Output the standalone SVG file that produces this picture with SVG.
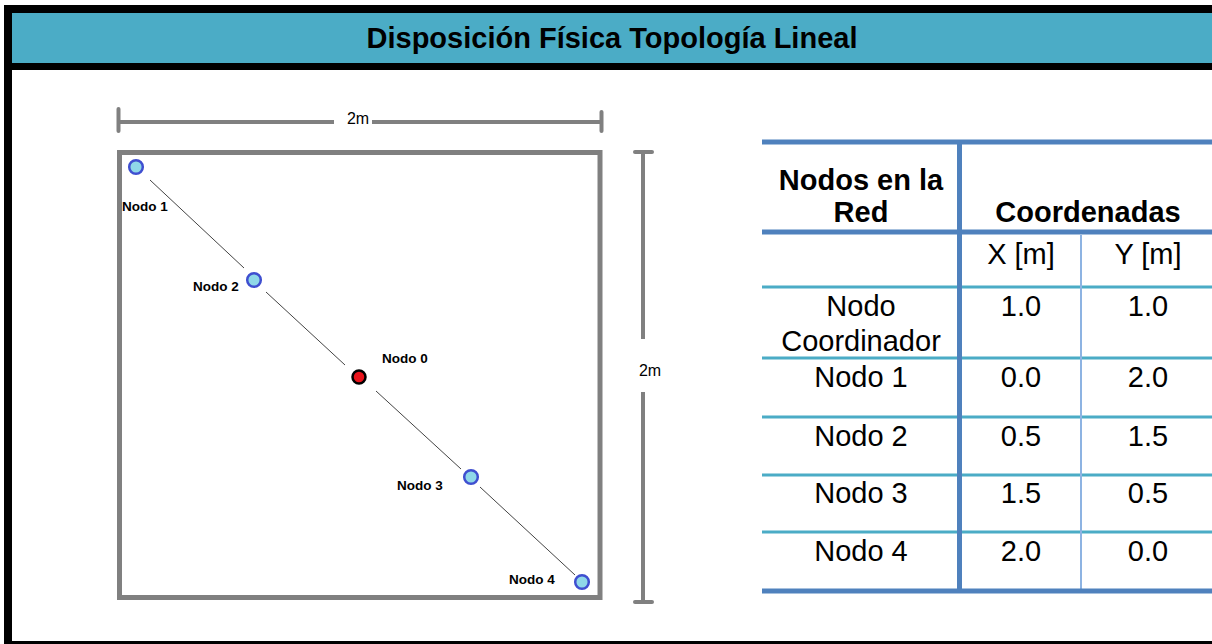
<svg xmlns="http://www.w3.org/2000/svg" width="1212" height="644" viewBox="0 0 1212 644">
<style>
.title{font-family:"Liberation Sans",Arial,sans-serif;font-weight:bold;font-size:29px;fill:#000}
.lbl{font-family:"Liberation Sans",Arial,sans-serif;font-weight:bold;font-size:13.5px;fill:#000}
.dim{font-family:"Liberation Sans",Arial,sans-serif;font-size:16px;fill:#000}
.th{font-family:"Liberation Sans",Arial,sans-serif;font-weight:bold;font-size:29px;fill:#000;text-anchor:middle}
.td{font-family:"Liberation Sans",Arial,sans-serif;font-size:29px;fill:#000;text-anchor:middle}
.gray{stroke:#808080;fill:none}
.node{fill:#8FD8E8;stroke:#3F4FD0;stroke-width:2.5}
.coord{fill:#E8131B;stroke:#000;stroke-width:2.5}
.thick{stroke:#4F81BD;stroke-width:5}
.thin{stroke:#4BACC6;stroke-width:3}
</style>
<rect x="0" y="0" width="1212" height="644" fill="#fff"/>
<!-- frame -->
<rect x="4" y="5" width="1208" height="8" fill="#000"/>
<rect x="4" y="5" width="8" height="639" fill="#000"/>
<rect x="12" y="13" width="1200" height="50" fill="#4BACC6"/>
<rect x="12" y="63" width="1200" height="7" fill="#000"/>
<rect x="4" y="641" width="1208" height="3" fill="#000"/>
<text class="title" x="612" y="48" text-anchor="middle">Disposición Física Topología Lineal</text>

<!-- room -->
<g id="room">
<rect class="gray" x="119.5" y="152.5" width="480.5" height="445" stroke-width="5"/>
</g>
<!-- dimensions -->
<g id="dim-top">
<line class="gray" x1="118" y1="122" x2="334" y2="122" stroke-width="4"/>
<line class="gray" x1="372" y1="122" x2="602" y2="122" stroke-width="4"/>
<line class="gray" x1="118.5" y1="109" x2="118.5" y2="131" stroke-width="4" stroke-linecap="round"/>
<line class="gray" x1="601.5" y1="112" x2="601.5" y2="131" stroke-width="4" stroke-linecap="round"/>
<text class="dim" x="358" y="124" text-anchor="middle">2m</text>
</g>
<g id="dim-right">
<line class="gray" x1="643" y1="152" x2="643" y2="339" stroke-width="4"/>
<line class="gray" x1="643" y1="392" x2="643" y2="602" stroke-width="4"/>
<line class="gray" x1="635" y1="152" x2="652" y2="152" stroke-width="4" stroke-linecap="round"/>
<line class="gray" x1="635" y1="602" x2="652" y2="602" stroke-width="4" stroke-linecap="round"/>
<text class="dim" x="650" y="376" text-anchor="middle">2m</text>
</g>

<!-- connectors -->
<g id="connectors" stroke="#444" stroke-width="1">
<line x1="150" y1="180" x2="244" y2="268"/>
<line x1="266" y1="292" x2="345" y2="365"/>
<line x1="376" y1="391" x2="461" y2="469"/>
<line x1="480" y1="487" x2="575" y2="575"/>
</g>

<!-- nodes -->
<g id="nodo1"><circle class="node" cx="136" cy="167" r="6.8"/><text class="lbl" x="122" y="211">Nodo 1</text></g>
<g id="nodo2"><circle class="node" cx="254" cy="280" r="6.8"/><text class="lbl" x="193" y="291">Nodo 2</text></g>
<g id="nodo0"><circle class="coord" cx="359" cy="377" r="6.5"/><text class="lbl" x="382" y="363">Nodo 0</text></g>
<g id="nodo3"><circle class="node" cx="471" cy="477" r="6.8"/><text class="lbl" x="397" y="490">Nodo 3</text></g>
<g id="nodo4"><circle class="node" cx="582" cy="582" r="6.8"/><text class="lbl" x="509" y="584">Nodo 4</text></g>

<!-- table -->
<g id="table">
<line class="thin" x1="762" y1="287" x2="1212" y2="287"/>
<line class="thin" x1="762" y1="358" x2="1212" y2="358"/>
<line class="thin" x1="762" y1="417" x2="1212" y2="417"/>
<line class="thin" x1="762" y1="475" x2="1212" y2="475"/>
<line class="thin" x1="762" y1="532" x2="1212" y2="532"/>
<line x1="1081" y1="235" x2="1081" y2="589" stroke="#8DB3E2" stroke-width="2"/>
<line class="thick" x1="762" y1="142" x2="1212" y2="142"/>
<line class="thick" x1="762" y1="232" x2="1212" y2="232"/>
<line class="thick" x1="762" y1="591" x2="1212" y2="591"/>
<line class="thick" x1="959.5" y1="140" x2="959.5" y2="593"/>
<text class="th" x="861" y="190">Nodos en la</text>
<text class="th" x="861" y="222">Red</text>
<text class="th" x="1088" y="222">Coordenadas</text>
<text class="td" x="1021" y="264">X [m]</text>
<text class="td" x="1148" y="264">Y [m]</text>
<text class="td" x="861" y="316">Nodo</text>
<text class="td" x="861" y="351">Coordinador</text>
<text class="td" x="1021" y="316">1.0</text>
<text class="td" x="1148" y="316">1.0</text>
<text class="td" x="861" y="387">Nodo 1</text>
<text class="td" x="1021" y="387">0.0</text>
<text class="td" x="1148" y="387">2.0</text>
<text class="td" x="861" y="446">Nodo 2</text>
<text class="td" x="1021" y="446">0.5</text>
<text class="td" x="1148" y="446">1.5</text>
<text class="td" x="861" y="503">Nodo 3</text>
<text class="td" x="1021" y="503">1.5</text>
<text class="td" x="1148" y="503">0.5</text>
<text class="td" x="861" y="561">Nodo 4</text>
<text class="td" x="1021" y="561">2.0</text>
<text class="td" x="1148" y="561">0.0</text>
</g>
</svg>
